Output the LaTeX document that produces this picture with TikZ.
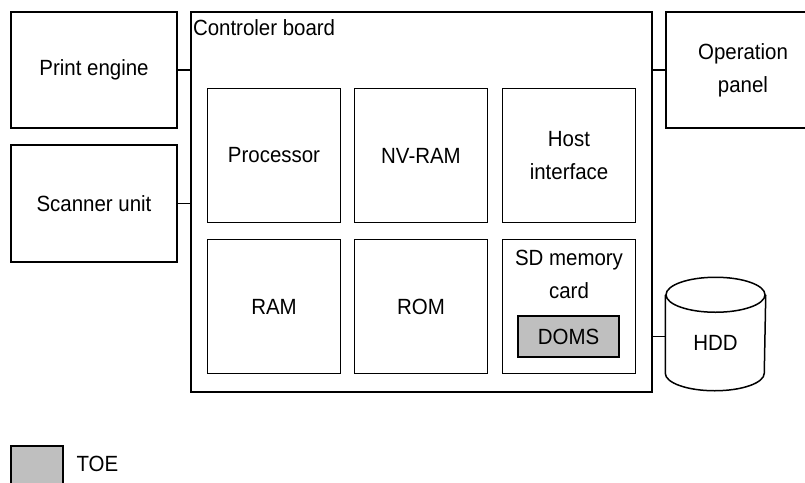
\documentclass[tikz,border=0pt]{standalone}
\usepackage{fontspec}
\setmainfont[FakeStretch=0.93]{Liberation Sans}
\usetikzlibrary{calc,positioning}

\begin{document}
\begin{tikzpicture}[x=1pt,y=-1pt,line width=1.5pt]
\tikzstyle{txt}=[font=\fontsize{22}{33}\selectfont,align=center]
\tikzstyle{box}=[txt,draw,rectangle,inner sep=0pt]
\tikzstyle{unit}=[box,minimum width=166pt,minimum height=116pt]
\tikzstyle{chip}=[box,minimum width=133pt,minimum height=134pt]
\tikzstyle{toe}=[box,fill=black!25]
\useasboundingbox (0,0) rectangle (805,482);
\clip (0,0) rectangle (805,482);

% controller board and its parts
\node[box,minimum width=461pt,minimum height=380pt] (board) at (421.5,202) {};
\node[txt,anchor=north west,inner xsep=2pt,inner ysep=8pt] (boardname) at (board.north west) {Controler board};
\node[chip] (cpu) at (274,155.5) {Processor};
\node[chip] (nvram) at (421,155.5) {NV-RAM};
\node[chip] (host) at (569,155.5) {Host\\interface};
\node[chip] (ram) at (274,306.5) {RAM};
\node[chip] (rom) at (421,306.5) {ROM};
\node[chip] (sd) at (569,306.5) {};
\node[txt,anchor=north,inner sep=0pt] (sdname) at ($(sd.north)+(0,11)$) {SD memory\\card};
\node[toe,minimum width=101pt,minimum height=41pt] (doms) at (568.5,336.5) {DOMS};

% outside units
\node[unit] (engine) at (94,70) {Print engine};
\node[unit,minimum height=117pt] (scanner) at (94,203.5) {Scanner unit};
\node[unit,minimum width=154pt] (panel) at (743,70) {Operation\\panel};
\node[txt,minimum width=99pt,minimum height=94.5pt] (hdd) at (715.5,342.75) {HDD};
\draw (hdd.north) ellipse[x radius=49.5pt,y radius=17.5pt];
\draw (hdd.north west) -- ($(hdd.south west)+(0,-17.5)$)
  arc[start angle=180,end angle=360,x radius=49.5pt,y radius=17.5pt]
  -- (hdd.north east);

\draw (engine.east) -- (engine -| board.west);
\draw (scanner.east) -- (scanner -| board.west);
\draw (panel.west) -- (panel -| board.east);
\draw (doms -| board.east) -- (doms -| hdd.west);

% key
\node[toe,minimum width=52pt,minimum height=46pt] (toekey) at (37,469) {};
\node[txt,anchor=west,inner sep=0pt] (toename) at ($(toekey.north east)+(12,19)$) {TOE};
\end{tikzpicture}
\end{document}
